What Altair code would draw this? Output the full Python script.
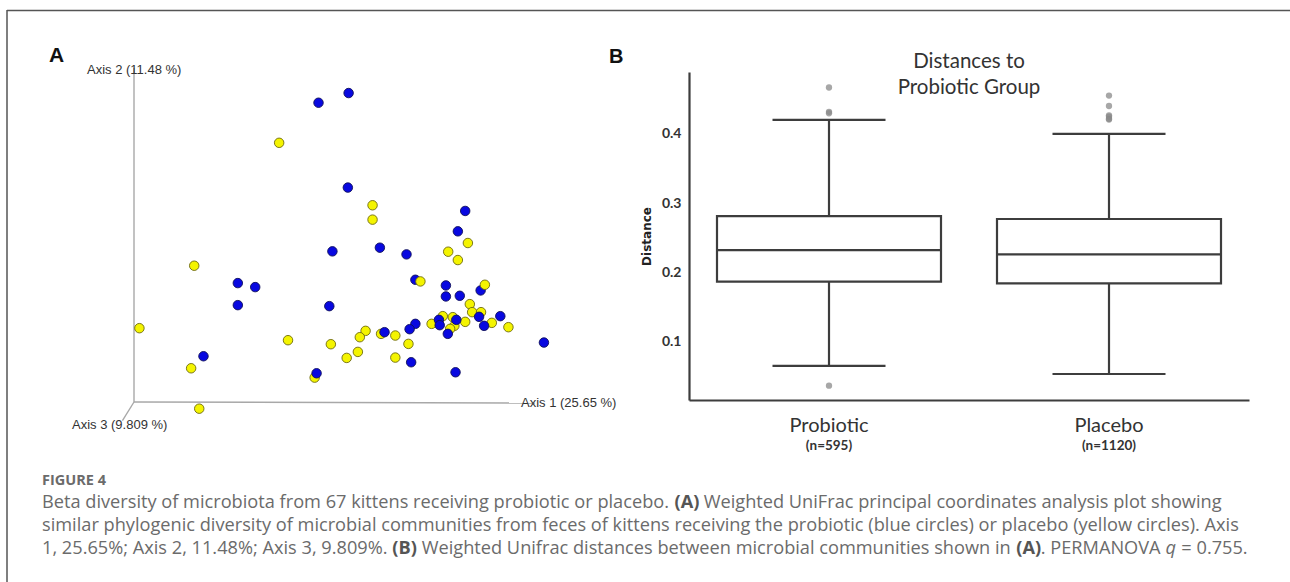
import altair as alt
import pandas as pd

W, H = 1290, 582

# ---------------- Panel A: PCoA projection (axis-1 horizontal, axis-2 vertical; frame units)
blue_u = [0.556, 0.478, 0.554, 0.858, 0.839, 0.514, 0.637, 0.706, 0.729, 0.808, 0.808,
          0.844, 0.898, 0.269, 0.314, 0.269, 0.506, 0.949, 0.894, 0.907, 0.790, 0.792,
          0.835, 0.813, 0.729, 0.714, 0.649, 1.062, 0.180, 0.718, 0.833, 0.473]
blue_v = [0.925, 0.896, 0.642, 0.572, 0.511, 0.451, 0.462, 0.442, 0.366, 0.349, 0.316,
          0.318, 0.334, 0.356, 0.344, 0.290, 0.287, 0.257, 0.255, 0.228, 0.246, 0.230,
          0.246, 0.204, 0.234, 0.218, 0.209, 0.178, 0.137, 0.119, 0.089, 0.086]
yellow_u = [0.376, 0.618, 0.618, 0.865, 0.814, 0.839, 0.156, 0.742, 0.909, 0.870, 0.876,
            0.899, 0.800, 0.826, 0.858, 0.927, 0.970, 0.771, 0.830, 0.819, 0.014, 0.600,
            0.585, 0.640, 0.677, 0.711, 0.399, 0.510, 0.580, 0.551, 0.677, 0.148, 0.468, 0.169]
yellow_v = [0.776, 0.589, 0.546, 0.476, 0.450, 0.425, 0.408, 0.361, 0.351, 0.293, 0.269,
            0.269, 0.257, 0.254, 0.240, 0.237, 0.224, 0.234, 0.228, 0.219, 0.221, 0.213,
            0.194, 0.204, 0.199, 0.174, 0.185, 0.173, 0.150, 0.132, 0.133, 0.101, 0.073, -0.020]
yellow_on_top = [7, 8]  # yellow points drawn above the blue ones

axes3d_name = ["Axis 1", "Axis 2", "Axis 3"]
axes3d_u2 = [1.039, 0.0, -0.030]
axes3d_v2 = [-0.003, 1.0, -0.056]

# ---------------- Panel B: box plot summaries
groups = ["Probiotic", "Placebo"]
n_labels = ["(n=595)", "(n=1120)"]
q1 = [0.1866, 0.1840]
med = [0.2320, 0.2260]
q3 = [0.2810, 0.2770]
w_lo = [0.0650, 0.0534]
w_hi = [0.4200, 0.3997]
out_group = ["Probiotic"] * 4 + ["Placebo"] * 6
out_val = [0.4666, 0.4315, 0.4295, 0.0366, 0.4550, 0.4400, 0.4265, 0.4245, 0.4215, 0.4205]

caption_head = "FIGURE 4"
# each caption line: list of (text, style, space_after) with style R=regular, B=bold, I=italic
caption_lines = [
    [("Beta diversity of microbiota from 67 kittens receiving probiotic or placebo.", "R", True),
     ("(A)", "B", True),
     ("Weighted UniFrac principal coordinates analysis plot showing", "R", False)],
    [("similar phylogenic diversity of microbial communities from feces of kittens receiving the probiotic (blue circles) or placebo (yellow circles). Axis", "R", False)],
    [("1, 25.65%; Axis 2, 11.48%; Axis 3, 9.809%.", "R", True),
     ("(B)", "B", True),
     ("Weighted Unifrac distances between microbial communities shown in", "R", True),
     ("(A)", "B", False),
     (". PERMANOVA", "R", True), ("q", "I", True), ("= 0.755.", "R", False)],
]

# approximate Open Sans advance widths (units of 1/2048 em) for laying out styled runs
OS_W = {" ": 532, "(": 578, ")": 578, "%": 1696, ",": 502, "-": 659, ".": 545, ";": 545,
        "=": 1171, "A": 1296, "B": 1327, "C": 1292, "D": 1493, "E": 1139, "F": 1057,
        "G": 1491, "H": 1511, "I": 571, "K": 1257, "M": 1849, "N": 1544, "O": 1595,
        "P": 1233, "R": 1266, "S": 1124, "U": 1511, "V": 1208, "W": 1894,
        "a": 1139, "b": 1255, "c": 975, "d": 1255, "e": 1149, "f": 694, "g": 1122,
        "h": 1257, "i": 518, "j": 518, "k": 1075, "l": 518, "m": 1905, "n": 1257,
        "o": 1237, "p": 1255, "q": 1255, "r": 836, "s": 977, "t": 723, "u": 1257,
        "v": 1026, "w": 1593, "x": 1073, "y": 1028, "z": 977}
for d in "0123456789":
    OS_W[d] = 1171


def run_width(s, size, style):
    w = sum(OS_W.get(c, 1150) for c in s) / 2048.0 * size
    return w * (1.12 if style == "B" else 1.0)


# ---------------- data frames
rows = []
for i, (u, v) in enumerate(zip(yellow_u, yellow_v)):
    rows.append({"u": u, "v": v, "group": "Placebo", "ord": 200 + i if i in yellow_on_top else i})
for i, (u, v) in enumerate(zip(blue_u, blue_v)):
    rows.append({"u": u, "v": v, "group": "Probiotic", "ord": 100 + i})
dfA = pd.DataFrame(rows)
dfAx = pd.DataFrame({"name": axes3d_name, "u": [0.0] * 3, "v": [0.0] * 3,
                     "u2": axes3d_u2, "v2": axes3d_v2})
dfB = pd.DataFrame({"g": groups, "n": n_labels, "q1": q1, "med": med, "q3": q3,
                    "lo": w_lo, "hi": w_hi})
dfO = pd.DataFrame({"g": out_group, "val": out_val})
one = pd.DataFrame({"k": [0]})

# ---------------- scales
xa = alt.Scale(domain=[0, 1], range=[134, 520], zero=False, nice=False)
ya = alt.Scale(domain=[0, 1], range=[402, 68], zero=False, nice=False)
xb = alt.Scale(domain=groups, range=[689, 1249], paddingInner=0.2, paddingOuter=0.1)
yb = alt.Scale(domain=[0.0159, 0.489], range=[400, 72], zero=False, nice=False)

INK = "#3d3d3d"
axBx = alt.Axis(orient="bottom", offset=-(H - 400), title=None, ticks=False, labelAngle=0,
                labelFont="Lato", labelFontSize=20, labelColor="#333333", labelPadding=15,
                domainColor=INK, domainWidth=2.2, grid=False)
axBy = alt.Axis(orient="left", offset=-689, title="Distance", values=[0.1, 0.2, 0.3, 0.4],
                format=".1f", ticks=False, labelFont="Lato", labelFontSize=14,
                labelFontWeight="bold", labelColor="#333333", labelPadding=8,
                titleFont="DejaVu Sans", titleFontSize=12, titleFontWeight="bold",
                titleColor="#222222", titlePadding=8, domainColor=INK, domainWidth=2.2,
                grid=False)

# ---------------- panel A layers
axes_rules = alt.Chart(dfAx).mark_rule(color="#a8a8a8", strokeWidth=1.4).encode(
    x=alt.X("u:Q", scale=xa, axis=None), y=alt.Y("v:Q", scale=ya, axis=None),
    x2="u2:Q", y2="v2:Q")
pts = alt.Chart(dfA).mark_circle(size=90, opacity=1, strokeWidth=0.9).encode(
    x=alt.X("u:Q", scale=xa, axis=None), y=alt.Y("v:Q", scale=ya, axis=None),
    fill=alt.Fill("group:N", scale=alt.Scale(domain=["Probiotic", "Placebo"],
                                             range=["#0808e0", "#f4f400"]), legend=None),
    stroke=alt.Stroke("group:N", scale=alt.Scale(domain=["Probiotic", "Placebo"],
                                                 range=["#10105a", "#6e6a10"]), legend=None),
    order=alt.Order("ord:Q"))
panelA = alt.layer(axes_rules, pts)

# ---------------- panel B layers
xenc = alt.X("g:N", scale=xb, axis=axBx, sort=groups)
box = alt.Chart(dfB).mark_bar(fill="white", stroke=INK, strokeWidth=2.2).encode(
    x=xenc, y=alt.Y("q1:Q", scale=yb, axis=axBy), y2="q3:Q")
wl = alt.Chart(dfB).mark_rule(color=INK, strokeWidth=2.2).encode(
    x=xenc, y=alt.Y("lo:Q", axis=axBy), y2="q1:Q")
wh = alt.Chart(dfB).mark_rule(color=INK, strokeWidth=2.2).encode(
    x=xenc, y=alt.Y("q3:Q", axis=axBy), y2="hi:Q")
cap_lo = alt.Chart(dfB).mark_tick(color=INK, size=113, thickness=2.2, opacity=1).encode(
    x=xenc, y=alt.Y("lo:Q", axis=axBy))
cap_hi = alt.Chart(dfB).mark_tick(color=INK, size=113, thickness=2.2, opacity=1).encode(
    x=xenc, y=alt.Y("hi:Q", axis=axBy))
median = alt.Chart(dfB).mark_tick(color=INK, size=224, thickness=2.2, opacity=1).encode(
    x=xenc, y=alt.Y("med:Q", axis=axBy))
outl = alt.Chart(dfO).mark_circle(size=40, color="#8a8a8a", opacity=0.75).encode(
    x=xenc, y=alt.Y("val:Q", axis=axBy))
ntext = alt.Chart(dfB).mark_text(font="Lato", fontSize=13.5, fontWeight="bold",
                                 color="#333333", baseline="alphabetic").encode(
    x=xenc, y=alt.value(450), text="n:N")
panelB = alt.layer(box, wl, wh, cap_lo, cap_hi, median, outl, ntext)

# ---------------- decorations and texts
def txt(s, x, y, **kw):
    return alt.Chart(one).mark_text(text=s, **kw).encode(x=alt.value(x), y=alt.value(y))

frame_top = alt.Chart(one).mark_rule(color="#555555", strokeWidth=1.5).encode(
    x=alt.value(7), x2=alt.value(W), y=alt.value(10.5))
frame_left = alt.Chart(one).mark_rule(color="#555555", strokeWidth=1.5).encode(
    x=alt.value(7), y=alt.value(10), y2=alt.value(H))

decos = [
    frame_top, frame_left,
    txt("A", 49, 62, font="Liberation Sans", fontSize=21, fontWeight="bold", align="left",
        baseline="alphabetic", color="#111111"),
    txt("B", 609, 63, font="Liberation Sans", fontSize=20, fontWeight="bold", align="left",
        baseline="alphabetic", color="#111111"),
    txt("Axis 2 (11.48 %)", 87, 70, font="Liberation Sans", fontSize=13, align="left",
        baseline="middle", color="#333333"),
    txt("Axis 1 (25.65 %)", 521, 403, font="Liberation Sans", fontSize=13, align="left",
        baseline="middle", color="#333333"),
    txt("Axis 3 (9.809 %)", 72, 425, font="Liberation Sans", fontSize=13, align="left",
        baseline="middle", color="#333333"),
    txt("Distances to", 969, 68, font="Lato", fontSize=20.5, align="center",
        baseline="alphabetic", color="#333333"),
    txt("Probiotic Group", 969, 94, font="Lato", fontSize=20.5, align="center",
        baseline="alphabetic", color="#333333"),
    txt(caption_head, 42, 485, font="Open Sans", fontSize=14.5, fontWeight="bold",
        align="left", baseline="alphabetic", color="#6b6b6b"),
]

CAP_SIZE = 18.2
CAP_X = 42
space_w = OS_W[" "] / 2048.0 * CAP_SIZE
for li, segs in enumerate(caption_lines):
    x = CAP_X
    y = 508 + 23 * li
    for s, style, sp in segs:
        kw = dict(font="Open Sans", fontSize=CAP_SIZE, align="left", baseline="alphabetic",
                  color="#6b6b6b")
        if style == "B":
            kw["fontWeight"] = "bold"
            kw["color"] = "#555555"
        if style == "I":
            kw["fontStyle"] = "italic"
        decos.append(txt(s, x, y, **kw))
        x += run_width(s, CAP_SIZE, style)
        if sp:
            x += space_w

chart = alt.layer(panelA, panelB, *decos).resolve_scale(
    x="independent", y="independent", fill="independent", stroke="independent"
).properties(
    width=W, height=H, padding=0, autosize=alt.AutoSizeParams(type="none"),
    background="white"
).configure_view(stroke=None)

chart.save("out.html", embed_options={"renderer": "svg", "actions": False})
